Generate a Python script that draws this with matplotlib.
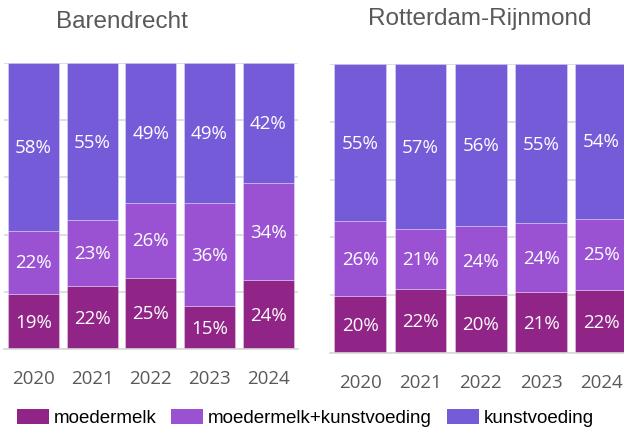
import matplotlib.pyplot as plt

# data
years = ['2020', '2021', '2022', '2023', '2024']
series_names = ['moedermelk', 'moedermelk+kunstvoeding', 'kunstvoeding']
colors = ['#902587', '#9A52D2', '#765BD9']

barendrecht_moedermelk = [19, 22, 25, 15, 24]
barendrecht_mix = [22, 23, 26, 36, 34]
barendrecht_kunst = [58, 55, 49, 49, 42]

rijnmond_moedermelk = [20, 22, 20, 21, 22]
rijnmond_mix = [26, 21, 24, 24, 25]
rijnmond_kunst = [55, 57, 56, 55, 54]

W, H = 624, 428
fig = plt.figure(figsize=(W / 100, H / 100), dpi=100)


def draw_panel(ax, series, width):
    x = range(len(years))
    # 100% gestapeld: normaliseren per jaar
    totals = [sum(col) for col in zip(*series)]
    bottom = [0] * len(years)
    handles = []
    for vals, name, col in zip(series, series_names, colors):
        heights = [v / t * 100 for v, t in zip(vals, totals)]
        bars = ax.bar(x, heights, width=width, bottom=bottom, color=col,
                      edgecolor=(1, 1, 1, 0.35), linewidth=0.6, label=name, zorder=2)
        handles.append(bars)
        for xi, v, h, b in zip(x, vals, heights, bottom):
            ax.text(xi, b + h / 2 - 0.4, f'{v}%', ha='center', va='center',
                    color='white', fontsize=13.5, family='Open Sans', zorder=3)
        bottom = [b + h for b, h in zip(bottom, heights)]
    ax.set_xlim(-0.5, 4.5)
    ax.set_ylim(0, 100)
    ax.set_yticks([0, 20, 40, 60, 80, 100])
    ax.set_yticklabels([])
    ax.tick_params(axis='y', length=0)
    ax.tick_params(axis='x', length=0, pad=15, labelsize=13.5, labelcolor='#595959')
    ax.set_xticks(list(x))
    ax.set_xticklabels(years, family='Open Sans')
    ax.grid(axis='y', color='#D9D9D9', linewidth=1.2, zorder=0)
    ax.set_axisbelow(True)
    for s in ['top', 'right', 'left']:
        ax.spines[s].set_visible(False)
    ax.spines['bottom'].set_color('#D9D9D9')
    ax.spines['bottom'].set_linewidth(1.2)
    return handles


ax1 = fig.add_axes([4 / W, (H - 349) / H, 293.5 / W, 286 / H])
handles = draw_panel(ax1, [barendrecht_moedermelk, barendrecht_mix, barendrecht_kunst], 0.87)

ax2 = fig.add_axes([330 / W, (H - 353) / H, 301.5 / W, 289 / H])
draw_panel(ax2, [rijnmond_moedermelk, rijnmond_mix, rijnmond_kunst], 0.86)

fig.text(122 / W, 1 - 22 / H, 'Barendrecht', ha='center', va='center',
         fontsize=17.5, color='#595959', family='Liberation Sans')
fig.text(480 / W, 1 - 19 / H, 'Rotterdam-Rijnmond', ha='center', va='center',
         fontsize=17.5, color='#595959', family='Liberation Sans')

leg = fig.legend(handles, series_names, loc='center left',
                 bbox_to_anchor=(17 / W, 1 - 418 / H), ncol=3, frameon=False,
                 prop={'family': 'Liberation Sans', 'size': 13.5},
                 handlelength=1.7, handleheight=0.8, handletextpad=0.25,
                 columnspacing=0.8, borderaxespad=0, borderpad=0)
for p in leg.get_patches():
    p.set_edgecolor('none')

fig.savefig('out.png', dpi=100)
